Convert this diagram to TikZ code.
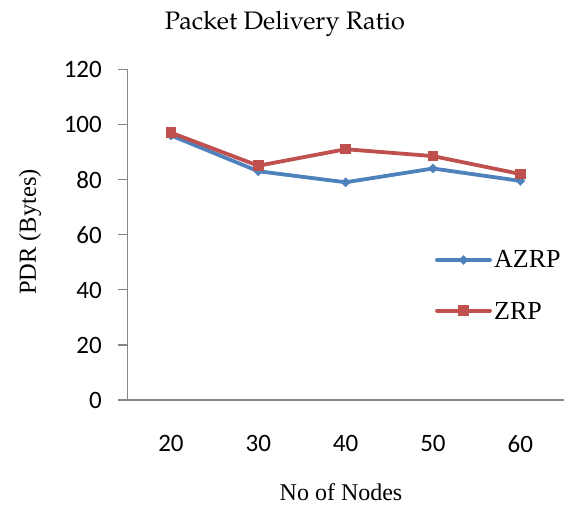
\documentclass[tikz,border=0pt]{standalone}
\usepackage{fontspec}
\setmainfont{Liberation Serif}
\newfontfamily\titlefont{TeX Gyre Pagella}
\newfontfamily\ticksfont{Carlito}
\usetikzlibrary{shapes.geometric}
\definecolor{azrp}{HTML}{4F81BD}
\definecolor{zrp}{HTML}{C0504D}
\definecolor{axisgray}{HTML}{868686}
\tikzset{
  axisline/.style={draw=axisgray, line width=1.4pt},
  ticklabel/.style={inner sep=0pt, font=\ticksfont\fontsize{25}{30}\selectfont},
  titlelabel/.style={inner sep=0pt, font=\titlefont\fontsize{25.3}{30}\selectfont},
  axistitle/.style={inner sep=0pt, font=\fontsize{24}{29}\selectfont},
  legendlabel/.style={inner sep=0pt, font=\fontsize{26}{31}\selectfont},
  azrpline/.style={draw=azrp, line width=3.8pt, line join=round, line cap=round},
  zrpline/.style={draw=zrp, line width=3.8pt, line join=round, line cap=round},
  azrpmark/.style={shape=diamond, fill=azrp, inner sep=0pt, minimum size=10pt},
  zrpmark/.style={shape=rectangle, fill=zrp, inner sep=0pt, minimum size=10.5pt},
}
\begin{document}
\begin{tikzpicture}[x=1pt, y=-1pt]
\useasboundingbox (0,0) rectangle (578,506);

% title and axis titles
\node[titlelabel, anchor=base] (title) at (285,29) {Packet Delivery Ratio};
\node[axistitle, anchor=base] (xtitle) at (341,500) {No of Nodes};
\node[axistitle, font=\fontsize{24.5}{29}\selectfont, rotate=90] (ytitle) at (30,232) {PDR (Bytes)};

% axes
\coordinate (ytop) at (127.3,69.3);
\coordinate (origin) at (127.3,400);
\coordinate (xleft) at (118,400);
\coordinate (xright) at (564,400);
\draw[axisline] (ytop) -- (origin);
\draw[axisline] (xleft) -- (xright);

% value ticks and labels
\foreach \v [count=\k from 0] in {0,20,40,60,80,100,120} {
  \coordinate (tick\k) at (118, 400-\k*55.12);
  \coordinate (tickend\k) at (127.3, 400-\k*55.12);
  \draw[axisline] (tick\k) -- (tickend\k);
  \node[ticklabel, anchor=east] (vlab\k) at (102, 400.5-\k*55.12) {\v};
}

% category labels
\foreach \c [count=\i from 0] in {20,30,40,50,60} {
  \node[ticklabel] (clab\i) at (127.3+87.34*\i+43.67, 443.7) {\c};
}

% data points
\foreach \v [count=\i from 0] in {96,83,79,84,79.5} {
  \coordinate (a\i) at (127.3+87.34*\i+43.67, 400-2.756*\v);
}
\foreach \v [count=\i from 0] in {97,85,91,88.5,82} {
  \coordinate (z\i) at (127.3+87.34*\i+43.67, 400-2.756*\v);
}

% AZRP series
\draw[azrpline] (a0) -- (a1) -- (a2) -- (a3) -- (a4);
\foreach \i in {0,...,4} \node[azrpmark] (am\i) at (a\i) {};

% ZRP series
\draw[zrpline] (z0) -- (z1) -- (z2) -- (z3) -- (z4);
\foreach \i in {0,...,4} \node[zrpmark] (zm\i) at (z\i) {};

% legend
\coordinate (la1) at (437,260);
\coordinate (la2) at (490,260);
\draw[azrpline] (la1) -- (la2);
\node[azrpmark] (lam) at (463.5,260) {};
\node[legendlabel, anchor=base west] (lat) at (494,267.5) {AZRP};

\coordinate (lz1) at (437,310.7);
\coordinate (lz2) at (490,310.7);
\draw[zrpline] (lz1) -- (lz2);
\node[zrpmark] (lzm) at (463.5,310.7) {};
\node[legendlabel, anchor=base west] (lzt) at (494,319) {ZRP};
\end{tikzpicture}
\end{document}
